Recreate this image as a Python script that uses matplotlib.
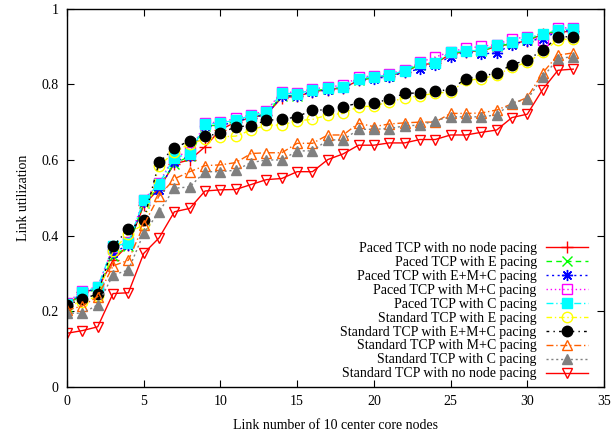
"""Link utilization of the 10 center core nodes, paced vs standard TCP."""

import matplotlib
matplotlib.use("Agg")
import matplotlib.pyplot as plt

plt.rcParams["font.family"] = ["Liberation Serif", "DejaVu Serif"]
plt.rcParams["font.size"] = 10

links = list(range(34))

paced_none = [0.215, 0.25, 0.26, 0.335, 0.375, 0.48, 0.525, 0.59, 0.60, 0.635,
              0.68, 0.70, 0.712, 0.72, 0.765, 0.768, 0.78, 0.786, 0.79, 0.81,
              0.818, 0.823, 0.832, 0.852, 0.855, 0.88, 0.886, 0.888, 0.9, 0.907,
              0.915, 0.932, 0.938, 0.94]
paced_e = [0.212, 0.248, 0.258, 0.345, 0.372, 0.485, 0.53, 0.59, 0.61, 0.69,
           0.692, 0.702, 0.713, 0.722, 0.77, 0.77, 0.782, 0.788, 0.792, 0.81,
           0.818, 0.823, 0.834, 0.852, 0.856, 0.882, 0.887, 0.888, 0.9, 0.908,
           0.916, 0.934, 0.94, 0.942]
paced_emc = [0.215, 0.25, 0.26, 0.355, 0.375, 0.488, 0.52, 0.595, 0.61, 0.69,
             0.69, 0.702, 0.712, 0.72, 0.768, 0.77, 0.78, 0.785, 0.79, 0.81,
             0.815, 0.82, 0.832, 0.84, 0.852, 0.873, 0.886, 0.88, 0.883, 0.905,
             0.915, 0.92, 0.94, 0.942]
paced_mc = [0.222, 0.255, 0.265, 0.37, 0.382, 0.495, 0.54, 0.61, 0.62, 0.698,
            0.7, 0.71, 0.72, 0.73, 0.78, 0.778, 0.788, 0.792, 0.798, 0.818,
            0.823, 0.828, 0.838, 0.858, 0.872, 0.886, 0.895, 0.9, 0.905, 0.92,
            0.925, 0.918, 0.948, 0.95]
paced_c = [0.22, 0.252, 0.263, 0.372, 0.38, 0.493, 0.537, 0.606, 0.616, 0.695,
           0.697, 0.706, 0.717, 0.727, 0.776, 0.775, 0.785, 0.789, 0.793, 0.815,
           0.82, 0.824, 0.836, 0.857, 0.857, 0.886, 0.888, 0.89, 0.904, 0.912,
           0.921, 0.934, 0.944, 0.946]
std_e = [0.215, 0.225, 0.24, 0.36, 0.405, 0.43, 0.585, 0.62, 0.643, 0.655,
         0.661, 0.663, 0.679, 0.692, 0.692, 0.704, 0.707, 0.719, 0.723, 0.741,
         0.742, 0.754, 0.763, 0.77, 0.776, 0.78, 0.81, 0.815, 0.824, 0.845,
         0.858, 0.884, 0.918, 0.92]
std_emc = [0.217, 0.232, 0.246, 0.372, 0.417, 0.44, 0.594, 0.631, 0.651, 0.663,
           0.67, 0.688, 0.69, 0.705, 0.707, 0.714, 0.732, 0.732, 0.741, 0.75,
           0.751, 0.76, 0.776, 0.777, 0.782, 0.786, 0.815, 0.822, 0.829, 0.852,
           0.864, 0.89, 0.925, 0.926]
std_mc = [0.203, 0.214, 0.239, 0.32, 0.335, 0.428, 0.505, 0.55, 0.569, 0.585,
          0.587, 0.593, 0.617, 0.619, 0.619, 0.644, 0.644, 0.666, 0.666, 0.697,
          0.688, 0.695, 0.698, 0.70, 0.70, 0.723, 0.723, 0.724, 0.732, 0.748,
          0.765, 0.83, 0.877, 0.883]
std_c = [0.195, 0.195, 0.217, 0.296, 0.309, 0.406, 0.463, 0.525, 0.529, 0.569,
         0.569, 0.573, 0.593, 0.60, 0.60, 0.624, 0.624, 0.653, 0.653, 0.681,
         0.681, 0.683, 0.69, 0.692, 0.704, 0.714, 0.714, 0.714, 0.719, 0.751,
         0.76, 0.818, 0.868, 0.873]
std_none = [0.142, 0.149, 0.159, 0.247, 0.249, 0.353, 0.394, 0.463, 0.472, 0.518,
            0.521, 0.522, 0.535, 0.548, 0.551, 0.569, 0.569, 0.601, 0.616, 0.639,
            0.639, 0.645, 0.645, 0.654, 0.654, 0.666, 0.666, 0.673, 0.679, 0.712,
            0.721, 0.786, 0.837, 0.84]

labels = [
    "Paced TCP with no node pacing",
    "Paced TCP with E pacing",
    "Paced TCP with E+M+C pacing",
    "Paced TCP with M+C pacing",
    "Paced TCP with C pacing",
    "Standard TCP with E pacing",
    "Standard TCP with E+M+C pacing",
    "Standard TCP with M+C pacing",
    "Standard TCP with C pacing",
    "Standard TCP with no node pacing",
]
series = [paced_none, paced_e, paced_emc, paced_mc, paced_c,
          std_e, std_emc, std_mc, std_c, std_none]

# gnuplot-ish styles: colour, dash pattern, marker, marker face, marker size
styles = [
    ("#ff0000", "-",               "+",       None,   8),
    ("#00ff00", (0, (4, 3)),       "x",       None,   6.5),
    ("#0000ff", (0, (1.5, 2.5)),   (8, 2, 0), None,   8),
    ("#ff00ff", (0, (1, 2)),       "s",       "none", 7),
    ("#00ffff", (0, (5, 2, 1, 2)), "s",       None,   7),
    ("#ffff00", (0, (4, 2, 1, 2)), "o",       "none", 7.5),
    ("#000000", (0, (2, 3, 1, 3)), "o",       None,   7.5),
    ("#ff6000", (0, (5, 2, 1, 2)), "^",       "none", 7),
    ("#808080", (0, (1.5, 2)),     "^",       None,   7),
    ("#ff0000", "-",               "v",       "none", 7),
]

fig = plt.figure(figsize=(6.13, 4.36), dpi=100)
ax = fig.add_axes([0.1093, 0.1124, 0.8760, 0.8679])

for vals, lab, (col, ls, mk, mfc, ms) in zip(series, labels, styles):
    ax.plot(links, vals, color=col, linestyle=ls, linewidth=1.0,
            marker=mk, markersize=ms, markeredgewidth=1.0,
            markerfacecolor=col if mfc is None else mfc,
            markeredgecolor=col, label=lab)

ax.set_xlim(0, 35)
ax.set_ylim(0, 1)
ax.set_xticks(range(0, 36, 5))
ax.set_yticks([0, 0.2, 0.4, 0.6, 0.8, 1])
ax.set_yticklabels(["0", "0.2", "0.4", "0.6", "0.8", "1"])
ax.tick_params(direction="in", top=True, right=True, length=5, width=0.8, pad=6)
for sp in ax.spines.values():
    sp.set_linewidth(1.0)

ax.set_xlabel("Link number of 10 center core nodes", labelpad=8)
ax.set_ylabel("Link utilization", labelpad=8)

ax.legend(loc="lower right", bbox_to_anchor=(0.9755, 0.01), frameon=False,
          markerfirst=False, handlelength=3.0, handletextpad=0.7,
          labelspacing=0.07, borderaxespad=0, borderpad=0.2, fontsize=10)

fig.savefig("out.png", dpi=100)
